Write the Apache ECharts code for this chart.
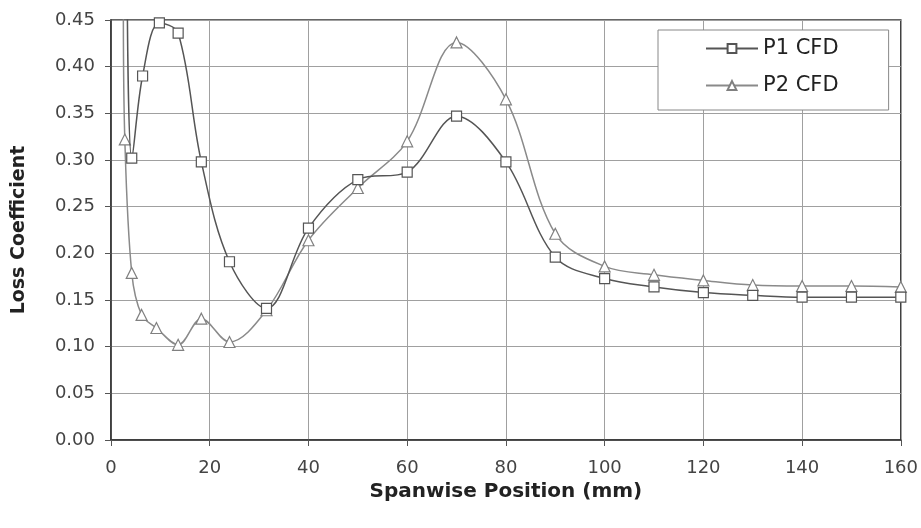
<!DOCTYPE html>
<html>
<head>
<meta charset="utf-8">
<script src="https://cdn.jsdelivr.net/npm/echarts@6/dist/echarts.min.js"></script>
<style>html,body{margin:0;padding:0;background:#fff}#c{width:921px;height:528px}</style>
</head>
<body>
<div id="c"></div>
<script>
var xTicks = [0, 20, 40, 60, 80, 100, 120, 140, 160];
var yTicks = [0.00, 0.05, 0.10, 0.15, 0.20, 0.25, 0.30, 0.35, 0.40, 0.45];

// P1 CFD (squares); first point runs off the top of the plot (no marker)
var p1X = [3.3, 4.2, 6.4, 9.8, 13.6, 18.3, 24, 31.5, 40, 50, 60, 70, 80, 90, 100, 110, 120, 130, 140, 150, 160];
var p1Y = [0.470, 0.302, 0.390, 0.447, 0.436, 0.298, 0.191, 0.141, 0.227, 0.279, 0.287, 0.347, 0.298, 0.196, 0.173, 0.164, 0.158, 0.155, 0.153, 0.153, 0.153];

// P2 CFD (triangles); first point runs off the top of the plot (no marker)
var p2X = [2.5, 2.8, 4.2, 6.2, 9.2, 13.6, 18.3, 24, 31.5, 40, 50, 60, 70, 80, 90, 100, 110, 120, 130, 140, 150, 160];
var p2Y = [0.470, 0.322, 0.179, 0.134, 0.120, 0.102, 0.130, 0.105, 0.139, 0.214, 0.270, 0.320, 0.426, 0.365, 0.221, 0.186, 0.177, 0.171, 0.166, 0.165, 0.165, 0.164];

function build(xs, ys) {
  return xs.map(function (x, i) {
    var d = { value: [x, ys[i]] };
    if (i === 0) d.symbol = 'none';
    return d;
  });
}

var chart = echarts.init(document.getElementById('c'), null, { renderer: 'canvas' });
chart.setOption({
  animation: false,
  backgroundColor: '#fff',
  grid: { left: 111, right: 18, top: 20, bottom: 88, show: true, borderColor: '#333', borderWidth: 1.5, backgroundColor: 'transparent' },
  legend: {
    left: 658, top: 30, orient: 'vertical',
    backgroundColor: '#fff', borderColor: '#888', borderWidth: 1,
    padding: [8, 50, 14, 47], itemGap: 16, itemWidth: 52, itemHeight: 11,
    textStyle: { fontFamily: 'DejaVu Sans', fontSize: 21, color: '#222' },
    data: ['P1 CFD', 'P2 CFD']
  },
  xAxis: {
    type: 'value', min: xTicks[0], max: xTicks[xTicks.length - 1], interval: 20,
    name: 'Spanwise Position (mm)', nameLocation: 'middle', nameGap: 40,
    nameTextStyle: { fontFamily: 'DejaVu Sans', fontWeight: 'bold', fontSize: 20, color: '#222' },
    axisLine: { show: true, lineStyle: { color: '#333', width: 1.5 } },
    axisTick: { show: true, length: 6, lineStyle: { color: '#555' } },
    axisLabel: { margin: 19, fontFamily: 'DejaVu Sans', fontSize: 18, color: '#444' },
    splitLine: { show: true, lineStyle: { color: '#a0a0a0', width: 1 } }
  },
  yAxis: {
    type: 'value', min: yTicks[0], max: yTicks[yTicks.length - 1], interval: 0.05,
    name: 'Loss Coefficient', nameLocation: 'middle', nameGap: 82,
    nameTextStyle: { fontFamily: 'DejaVu Sans', fontWeight: 'bold', fontSize: 19, color: '#222' },
    axisLine: { show: true, lineStyle: { color: '#333', width: 1.5 } },
    axisTick: { show: true, length: 6, lineStyle: { color: '#555' } },
    axisLabel: { margin: 16, fontFamily: 'DejaVu Sans', fontSize: 18, color: '#444', formatter: function (v) { return v.toFixed(2); } },
    splitLine: { show: true, lineStyle: { color: '#a0a0a0', width: 1 } }
  },
  series: [
    {
      name: 'P1 CFD', type: 'line', smooth: 0.35, clip: true,
      symbol: 'rect', symbolSize: 10,
      lineStyle: { color: '#555', width: 1.5 },
      itemStyle: { color: '#fff', borderColor: '#555', borderWidth: 1.2 },
      data: build(p1X, p1Y), z: 3
    },
    {
      name: 'P2 CFD', type: 'line', smooth: 0.35, clip: true,
      symbol: 'triangle', symbolSize: 11,
      lineStyle: { color: '#8a8a8a', width: 1.5 },
      itemStyle: { color: '#fff', borderColor: '#808080', borderWidth: 1.2 },
      data: build(p2X, p2Y), z: 2
    }
  ]
});
</script>
</body>
</html>
